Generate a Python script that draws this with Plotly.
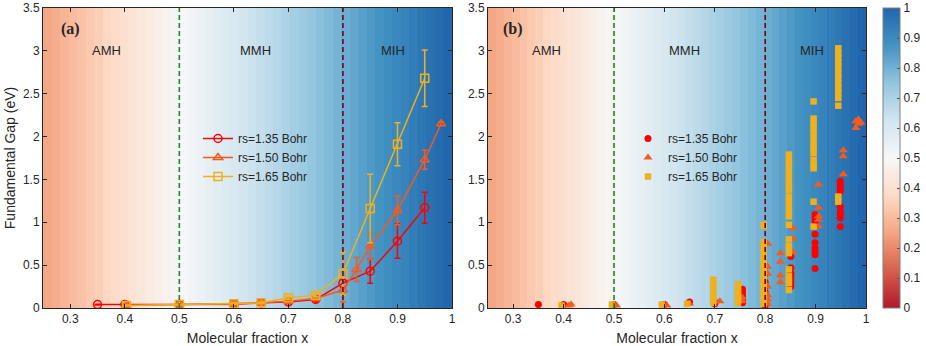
import plotly.graph_objects as go

# ---- panel (a): averaged gap with error bars ----
xa_135 = [0.35, 0.40, 0.50, 0.60, 0.65, 0.70, 0.75, 0.80, 0.85, 0.90, 0.95]
ya_135 = [0.04, 0.04, 0.04, 0.05, 0.06, 0.07, 0.10, 0.29, 0.43, 0.78, 1.17]
ea_135 = [0.005, 0.005, 0.005, 0.01, 0.01, 0.02, 0.03, 0.05, 0.14, 0.20, 0.18]

xa_150 = [0.403, 0.50, 0.60, 0.65, 0.70, 0.75, 0.80, 0.825, 0.85, 0.90, 0.95, 0.98]
ya_150 = [0.03, 0.04, 0.04, 0.06, 0.08, 0.11, 0.21, 0.45, 0.72, 1.14, 1.73, 2.15]
ea_150 = [0.005, 0.005, 0.01, 0.01, 0.02, 0.02, 0.14, 0.14, 0.15, 0.17, 0.11, 0.02]

xa_165 = [0.403, 0.50, 0.60, 0.65, 0.70, 0.75, 0.80, 0.85, 0.90, 0.95]
ya_165 = [0.03, 0.04, 0.05, 0.06, 0.12, 0.15, 0.40, 1.16, 1.91, 2.68]
ea_165 = [0.005, 0.005, 0.01, 0.01, 0.02, 0.02, 0.25, 0.40, 0.25, 0.33]

# ---- panel (b): individual configurations ----
xb_135 = [0.35, 0.40, 0.50, 0.60, 0.65, 0.70, 0.70,
          0.755, 0.755, 0.755, 0.755, 0.755,
          0.80, 0.80, 0.80, 0.80, 0.80, 0.80, 0.80, 0.80,
          0.851, 0.851, 0.851, 0.851, 0.851, 0.851, 0.851,
          0.899, 0.899, 0.899, 0.899, 0.899, 0.899, 0.899, 0.899, 0.899,
          0.949, 0.949, 0.949, 0.949, 0.949, 0.949, 0.949, 0.949, 0.949]
yb_135 = [0.04, 0.04, 0.04, 0.04, 0.07, 0.05, 0.07,
          0.06, 0.10, 0.14, 0.18, 0.22,
          0.03, 0.08, 0.12, 0.18, 0.25, 0.30, 0.40, 0.49,
          0.25, 0.30, 0.34, 0.38, 0.41, 0.47, 0.60,
          0.46, 0.62, 0.66, 0.70, 0.76, 0.86, 1.01, 1.05, 1.09,
          0.95, 1.05, 1.09, 1.13, 1.19, 1.36, 1.40, 1.43, 1.48]

xb_150 = [0.41, 0.415, 0.505, 0.605, 0.65, 0.71, 0.755, 0.755,
          0.805, 0.805, 0.805, 0.805, 0.805, 0.805, 0.805,
          0.83, 0.83, 0.83, 0.83,
          0.855, 0.855, 0.855,
          0.906, 0.906, 0.906, 0.906, 0.906,
          0.955, 0.955, 0.955,
          0.98, 0.98, 0.985, 0.985, 0.99]
yb_150 = [0.03, 0.04, 0.03, 0.03, 0.05, 0.08, 0.08, 0.12,
          0.05, 0.10, 0.15, 0.25, 0.40, 0.48, 0.75,
          0.30, 0.38, 0.54, 0.64,
          0.65, 0.81, 0.93,
          0.95, 1.03, 1.07, 1.17, 1.44,
          1.56, 1.77, 1.84,
          2.10, 2.18, 2.15, 2.20, 2.16]

xb_165 = [0.396, 0.496, 0.595, 0.645] + [0.697] * 8 + [0.746] * 8 + [0.797] * 18 \
    + [0.847] * 24 + [0.896] * 14 + [0.945] * 14
yb_165 = [0.03, 0.04, 0.04, 0.05,
          0.06, 0.09, 0.12, 0.16, 0.20, 0.24, 0.28, 0.33,
          0.06, 0.09, 0.12, 0.15, 0.18, 0.21, 0.24, 0.28,
          0.05, 0.09, 0.13, 0.17, 0.22, 0.26, 0.30, 0.35, 0.40, 0.45, 0.50, 0.55,
          0.60, 0.66, 0.72, 0.77, 0.96, 0.97,
          0.21, 0.29, 0.33, 0.37, 0.45, 0.64, 0.70, 0.72, 0.80, 0.97, 1.07, 1.12,
          1.18, 1.24, 1.30, 1.38, 1.42, 1.46, 1.52, 1.58, 1.64, 1.70, 1.73, 1.79,
          0.95, 1.24, 1.63, 1.67, 1.73, 1.81, 1.86, 1.92, 1.98, 2.04, 2.10, 2.16,
          2.21, 2.41,
          1.24, 1.30, 2.36, 2.45, 2.51, 2.56, 2.62, 2.68, 2.74, 2.80, 2.86, 2.92,
          2.97, 3.03]

series_names = ["rs=1.35 Bohr", "rs=1.50 Bohr", "rs=1.65 Bohr"]
series_colors = ["#ff0000", "#f65a1e", "#edb120"]

region_labels = ["AMH", "MMH", "MIH"]
region_x = [0.367, 0.64, 0.892]
boundaries = [0.5, 0.8]
boundary_colors = ["#1f8a1f", "#7a0010"]

# background: molecular fraction mapped through a 64-step colormap
N_STEPS = 64
bg_x = [(k + 0.5) / N_STEPS for k in range(16, N_STEPS)]
bg_z = [[k / (N_STEPS - 1) for k in range(16, N_STEPS)]] * 2
bg_y = [0, 3.5]

rdbu = ["#b2182b", "#d6604d", "#f4a582", "#fddbc7", "#f7f7f7",
        "#d1e5f0", "#92c5de", "#4393c3", "#2166ac"]
colorscale = [[i / (len(rdbu) - 1), c] for i, c in enumerate(rdbu)]

AX = "#262626"
FONT = "Liberation Sans, Arial, sans-serif"

fig = go.Figure()

for xa, ya, show in (("x", "y", False), ("x2", "y2", True)):
    fig.add_trace(go.Heatmap(
        x=bg_x, y=bg_y, z=bg_z, xaxis=xa, yaxis=ya,
        colorscale=colorscale, zmin=0, zmax=1, showscale=show, hoverinfo="skip",
        colorbar=dict(
            x=883 / 926, xanchor="left", xpad=0, ypad=0,
            y=1 - 8 / 346, yanchor="top",
            thickness=17, thicknessmode="pixels", len=300, lenmode="pixels",
            outlinecolor="#808080", outlinewidth=1,
            tickvals=[i / 10 for i in range(11)],
            ticktext=["0", "0.1", "0.2", "0.3", "0.4", "0.5", "0.6", "0.7", "0.8", "0.9", "1"],
            ticks="inside", ticklen=3, tickcolor="#555555",
            tickfont=dict(size=12, color=AX, family=FONT),
        ),
    ))

symbols_a = ["circle-open", "triangle-up-open", "square-open"]
data_a = [(xa_135, ya_135, ea_135), (xa_150, ya_150, ea_150), (xa_165, ya_165, ea_165)]
for (xs, ys, es), name, col, sym in zip(data_a, series_names, series_colors, symbols_a):
    fig.add_trace(go.Scatter(
        x=xs, y=ys, mode="lines+markers", name=name, legend="legend",
        line=dict(color=col, width=1.5),
        marker=dict(symbol=sym, size=8, color=col, line=dict(width=1.5, color=col)),
        error_y=dict(type="data", array=es, color=col, thickness=1.5, width=3),
        xaxis="x", yaxis="y",
    ))

symbols_b = ["circle", "triangle-up", "square"]
sizes_b = [7, 8, 6.5]
data_b = [(xb_135, yb_135), (xb_150, yb_150), (xb_165, yb_165)]
for (xs, ys), name, col, sym, sz in zip(data_b, series_names, series_colors, symbols_b, sizes_b):
    fig.add_trace(go.Scatter(
        x=xs, y=ys, mode="markers", name=name, legend="legend2",
        marker=dict(symbol=sym, size=sz, color=col, line=dict(width=0)),
        xaxis="x2", yaxis="y2",
    ))

axis_common = dict(
    range=[0.25, 1], showline=True, linecolor=AX, linewidth=1, mirror="ticks",
    ticks="inside", ticklen=4, tickcolor=AX, showgrid=False, zeroline=False,
    tickvals=[0.3, 0.4, 0.5, 0.6, 0.7, 0.8, 0.9, 1.0],
    tickfont=dict(size=12, color=AX, family=FONT),
    title=dict(text="Molecular fraction x", font=dict(size=14, color=AX, family=FONT), standoff=7),
)
yaxis_common = dict(
    range=[0, 3.5], showline=True, linecolor=AX, linewidth=1, mirror="ticks",
    ticks="inside", ticklen=4, tickcolor=AX, showgrid=False, zeroline=False,
    tickvals=[0, 0.5, 1, 1.5, 2, 2.5, 3, 3.5],
    tickfont=dict(size=12, color=AX, family=FONT),
)

shapes = []
annotations = []
for xr, yr, tag in (("x", "y", "(a)"), ("x2", "y2", "(b)")):
    for bx, bc in zip(boundaries, boundary_colors):
        shapes.append(dict(type="line", xref=xr, yref=yr, x0=bx, x1=bx, y0=0, y1=3.5,
                           line=dict(color=bc, width=1.6, dash="5px,3px"), layer="above"))
    for lab, lx in zip(region_labels, region_x):
        annotations.append(dict(x=lx, y=3.0, xref=xr, yref=yr, text=lab, showarrow=False,
                                font=dict(size=13, color=AX, family=FONT)))
    annotations.append(dict(x=0.30, y=3.25, xref=xr, yref=yr, text="<b>" + tag + "</b>",
                            showarrow=False,
                            font=dict(size=16, color=AX, family="Liberation Serif, Times New Roman, serif")))

legend_common = dict(bgcolor="rgba(0,0,0,0)", borderwidth=0, yanchor="top",
                     font=dict(size=12, color=AX, family=FONT), tracegroupgap=0,
                     itemwidth=30)

fig.update_layout(
    width=926, height=346,
    margin=dict(l=0, r=0, t=0, b=0, autoexpand=False),
    paper_bgcolor="white", plot_bgcolor="white",
    font=dict(family=FONT, color=AX),
    xaxis=dict(axis_common, domain=[43 / 926, 452 / 926], anchor="y", automargin=False),
    yaxis=dict(yaxis_common, domain=[1 - 308 / 346, 1 - 8 / 346], anchor="x", automargin=False,
               title=dict(text="Fundamental Gap (eV)", font=dict(size=14, color=AX, family=FONT),
                          standoff=4)),
    xaxis2=dict(axis_common, domain=[488 / 926, 866 / 926], anchor="y2", automargin=False),
    yaxis2=dict(yaxis_common, domain=[1 - 308 / 346, 1 - 8 / 346], anchor="x2", automargin=False),
    legend=dict(legend_common, x=198 / 926, y=1 - 124 / 346, xanchor="left"),
    legend2=dict(legend_common, x=628 / 926, y=1 - 124 / 346, xanchor="left"),
    shapes=shapes,
    annotations=annotations,
)

fig.write_html(
    "out.html",
    config={"displayModeBar": False},
    post_script="document.body.style.margin='0';document.body.style.overflow='hidden';",
)
